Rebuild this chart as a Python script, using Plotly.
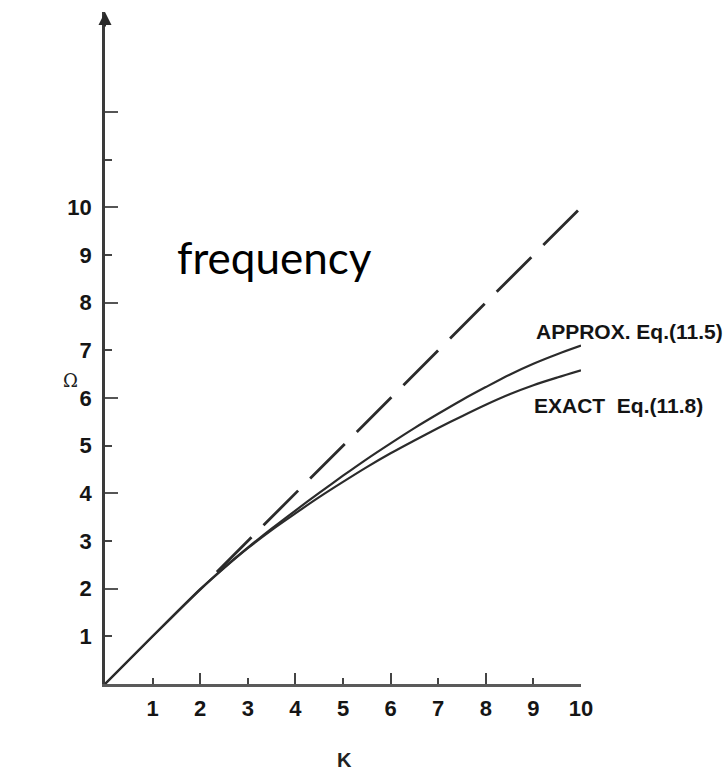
import plotly.graph_objects as go

# Dispersion curves: frequency Omega versus wavenumber K
k_vals = [0, 1, 2, 2.5, 3, 3.5, 4, 4.5, 5, 5.5, 6, 6.5, 7, 7.5, 8, 8.5, 9, 9.5, 10]
omega_approx = [0, 1.0, 1.99, 2.44, 2.86, 3.26, 3.64, 4.01, 4.37, 4.72, 5.05,
                5.37, 5.67, 5.96, 6.23, 6.49, 6.72, 6.92, 7.10]
omega_exact = [0, 1.0, 1.98, 2.43, 2.85, 3.23, 3.58, 3.92, 4.24, 4.55, 4.84,
               5.11, 5.37, 5.62, 5.86, 6.08, 6.27, 6.43, 6.58]

# Straight-line limit Omega = K (drawn dashed where it leaves the curves)
asymptote_k = [2.35, 10.0]
asymptote_omega = [2.35, 10.0]

x_ticks = [1, 2, 3, 4, 5, 6, 7, 8, 9, 10]
x_major = [2, 4, 6, 8, 10]
y_ticks = [1, 2, 3, 4, 5, 6, 7, 8, 9, 10, 11, 12]
y_labels = ["1", "2", "3", "4", "5", "6", "7", "8", "9", "10", "", ""]
y_major = [2, 4, 6, 8, 10, 12]

approx_label = "APPROX. Eq.(11.5)"
exact_label = "EXACT&nbsp;&nbsp;Eq.(11.8)"

ink = "#2b2b2b"
tick_font = dict(family="Liberation Sans, Arial, sans-serif", size=22,
                 color="#151515", weight="bold")

fig = go.Figure()
fig.add_trace(go.Scatter(x=asymptote_k, y=asymptote_omega, mode="lines",
                         line=dict(color=ink, width=2.8, dash="49px,17px"),
                         hoverinfo="skip"))
fig.add_trace(go.Scatter(x=k_vals, y=omega_approx, mode="lines",
                         line=dict(color=ink, width=2.2, shape="spline", smoothing=0.8),
                         hoverinfo="skip"))
fig.add_trace(go.Scatter(x=k_vals, y=omega_exact, mode="lines",
                         line=dict(color=ink, width=2.2, shape="spline", smoothing=0.8),
                         hoverinfo="skip"))

x_range = [0, 10]
y_range = [0, 14.1]

fig.update_layout(
    width=723, height=772,
    margin=dict(l=105, r=142, t=12, b=88),
    paper_bgcolor="white", plot_bgcolor="white",
    showlegend=False,
    xaxis=dict(range=x_range, showgrid=False, zeroline=False,
               showline=True, linecolor="#5a5a5a", linewidth=2.5,
               tickmode="array", tickvals=x_ticks,
               ticktext=[str(v) for v in x_ticks],
               ticks="inside", ticklen=6, tickwidth=2, tickcolor="#444",
               tickfont=tick_font, ticklabelstandoff=3),
    yaxis=dict(range=y_range, showgrid=False, zeroline=False,
               showline=True, linecolor="#3a3a3a", linewidth=2.5,
               tickmode="array", tickvals=y_ticks, ticktext=y_labels,
               ticks="inside", ticklen=7, tickwidth=2, tickcolor="#444",
               tickfont=tick_font, ticklabelstandoff=6),
    # overlay axes carry the longer ticks at even values
    xaxis2=dict(range=x_range, overlaying="x", anchor="y", side="bottom",
                showgrid=False, zeroline=False, showline=False,
                tickmode="array", tickvals=x_major, ticks="inside",
                ticklen=11, tickwidth=2, tickcolor="#444",
                showticklabels=False),
    yaxis2=dict(range=y_range, overlaying="y", anchor="x", side="left",
                showgrid=False, zeroline=False, showline=False,
                tickmode="array", tickvals=y_major, ticks="inside",
                ticklen=13, tickwidth=2, tickcolor="#555",
                showticklabels=False),
)

# keep the overlay axes rendered
fig.add_trace(go.Scatter(x=[None], y=[None], xaxis="x2", yaxis="y2",
                         mode="lines", hoverinfo="skip"))

label_font = dict(family="Liberation Sans, Arial, sans-serif", size=21,
                  color="#141414", weight="bold")
fig.add_annotation(x=9.02, y=7.40, xref="x", yref="y", text=approx_label,
                   showarrow=False, xanchor="left", yanchor="middle", font=label_font)
fig.add_annotation(x=8.96, y=5.85, xref="x", yref="y", text=exact_label,
                   showarrow=False, xanchor="left", yanchor="middle", font=label_font)
fig.add_annotation(x=3.57, y=8.95, xref="x", yref="y", text="frequency",
                   showarrow=False, xanchor="center", yanchor="middle",
                   font=dict(family="Lato, Open Sans, sans-serif", size=44, color="black"))
# axis names sit outside the plotting range, so place them in paper units
fig.add_annotation(x=-0.0735, y=0.452, xref="paper", yref="paper", text="Ω",
                   showarrow=False, xanchor="center", yanchor="middle",
                   font=dict(family="DejaVu Serif, serif", size=18, color="#222"))
fig.add_annotation(x=0.504, y=-0.113, xref="paper", yref="paper", text="K",
                   showarrow=False, xanchor="center", yanchor="middle",
                   font=dict(family="Liberation Sans, Arial, sans-serif", size=20,
                             color="#222", weight="bold"))
# arrowhead at the top of the Omega axis
fig.add_annotation(x=0, y=y_range[1], xref="x", yref="y", text="",
                   showarrow=True, ax=0, ay=16, arrowhead=2, arrowsize=1.3,
                   arrowwidth=2, arrowcolor="#2a2a2a")

fig.write_html("out.html")
